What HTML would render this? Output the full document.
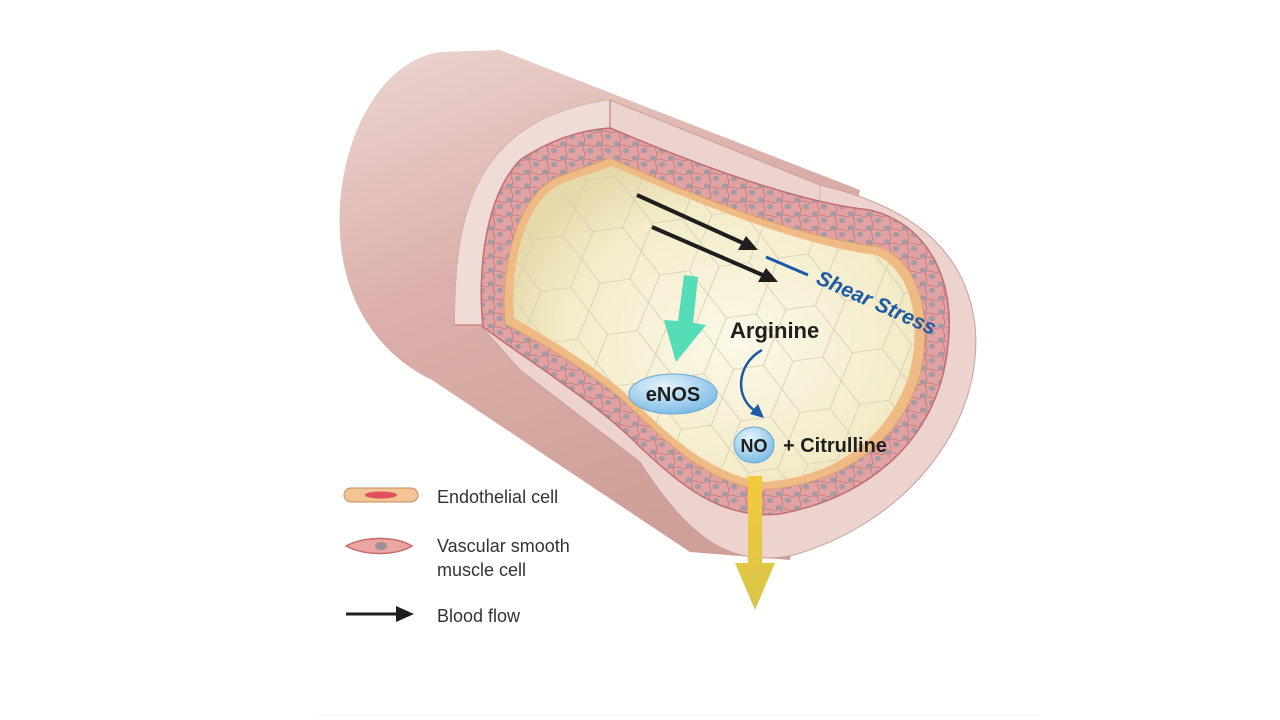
<!DOCTYPE html>
<html><head><meta charset="utf-8"><style>
html,body{margin:0;padding:0;background:#fff;}
svg{display:block;font-family:"Liberation Sans",sans-serif;}
</style></head><body>
<svg width="1280" height="720" viewBox="0 0 1280 720" xmlns="http://www.w3.org/2000/svg">
<defs>
<linearGradient id="body" x1="0" y1="0" x2="0.4" y2="1">
<stop offset="0" stop-color="#ecd6d0"/><stop offset="0.45" stop-color="#dcb1ab"/><stop offset="1" stop-color="#cf9f99"/></linearGradient>
<radialGradient id="lumen" cx="0.55" cy="0.55" r="0.6">
<stop offset="0" stop-color="#fcf8e8"/><stop offset="0.7" stop-color="#f4ecca"/><stop offset="1" stop-color="#e6d9aa"/></radialGradient>
<radialGradient id="bub" cx="0.4" cy="0.3" r="0.7">
<stop offset="0" stop-color="#e6f4fc"/><stop offset="1" stop-color="#7fbde6"/></radialGradient>
<linearGradient id="yel" x1="0" y1="0" x2="0" y2="1"><stop offset="0" stop-color="#f3c93a"/><stop offset="1" stop-color="#d9c54a"/></linearGradient>
<pattern id="hex" width="60" height="52" patternUnits="userSpaceOnUse" patternTransform="rotate(-8)">
<path d="M0 26 L15 0 L45 0 L60 26 L45 52 L15 52 Z" fill="none" stroke="#d6cab0" stroke-width="0.8"/>
</pattern>
<pattern id="cells" width="18" height="14" patternUnits="userSpaceOnUse">
<rect width="18" height="14" fill="#e2a2a2"/>
<path d="M0 7 Q9 3 18 7 M9 0 Q6 7 9 14" stroke="#c27478" stroke-width="0.8" fill="none"/>
<ellipse cx="5" cy="4" rx="3.2" ry="2.6" fill="#a49aa4"/>
<ellipse cx="14" cy="10.5" rx="3.2" ry="2.6" fill="#a49aa4"/>
</pattern>
</defs>
<!-- cylinder body -->
<path d="M440 52 C 375 62 335 150 340 235 C 345 315 390 360 432 380 L 690 552 L 790 560 L 860 190 L 500 50 Z" fill="url(#body)"/>
<!-- front face -->
<path d="M610 100 L 820 185 C 905 205 965 245 975 325 C 985 425 905 525 790 556 C 730 566 690 540 640 462 L 520 370 L 480 325 L 455 325 C 455 220 470 120 610 100 Z" fill="#ecd3cd" stroke="#c9a09a" stroke-width="1"/>
<path d="M610 100 C 470 120 455 220 455 325 L 485 325 C 482 250 500 180 610 135 Z" fill="#efdcd7"/>
<path d="M610 100 L610 160 M455 325 L520 325" stroke="#c46a6a" stroke-width="1"/>
<path d="M820 185 L820 215" stroke="#d8b4ae"/>
<!-- muscle layer -->
<path d="M610 128 C 700 166 800 203 870 210 C 935 226 955 290 948 345 C 940 430 880 495 780 514 C 720 520 680 484 640 447 C 600 405 530 362 483 327 C 478 280 482 200 520 160 C 550 140 580 130 610 128 Z" fill="url(#cells)" stroke="#c06f74" stroke-width="1.5"/>
<!-- endothelial -->
<path d="M610 158 C 700 198 800 238 880 247 C 925 265 933 330 918 382 C 893 452 833 486 760 490 C 700 480 660 435 620 398 C 580 365 540 342 505 324 C 500 270 515 200 555 178 Z" fill="#efba84" stroke="#d9a070" stroke-width="1"/>
<!-- lumen -->
<path d="M612 166 C 700 205 800 245 876 255 C 915 272 922 330 908 378 C 884 445 828 478 762 482 C 704 472 664 430 624 392 C 586 360 548 338 514 318 C 510 270 522 205 560 184 Z" fill="url(#lumen)"/>
<path d="M612 166 C 700 205 800 245 876 255 C 915 272 922 330 908 378 C 884 445 828 478 762 482 C 704 472 664 430 624 392 C 586 360 548 338 514 318 C 510 270 522 205 560 184 Z" fill="url(#hex)"/>
<!-- flow arrows -->
<g stroke="#1e1e1e" stroke-width="4" fill="#1e1e1e">
<line x1="637" y1="195" x2="745" y2="244"/><path d="M758 250 L738 250 L746 236 Z" stroke="none"/>
<line x1="652" y1="227" x2="765" y2="276"/><path d="M778 282 L758 282 L766 268 Z" stroke="none"/>
</g>
<!-- shear stress -->
<line x1="766" y1="257" x2="808" y2="275" stroke="#1a5aa6" stroke-width="3"/>
<text x="815" y="283" fill="#1a5aa6" font-size="21" font-weight="bold" font-style="italic" transform="rotate(24 815 283)">Shear Stress</text>
<!-- green arrow -->
<path d="M684 275 L698 277 L693 323 L706 325 L676 362 L664 320 L678 321 Z" fill="#55ddb8"/>
<!-- eNOS -->
<ellipse cx="673" cy="394" rx="44" ry="20" fill="url(#bub)" stroke="#6aa9d4"/>
<text x="673" y="401" font-size="20" font-weight="bold" fill="#1e1e1e" text-anchor="middle">eNOS</text>
<text x="730" y="338" font-size="22" font-weight="bold" fill="#1e1e1e">Arginine</text>
<path d="M762 350 C 735 365 735 400 757 412" fill="none" stroke="#1a5aa6" stroke-width="2.5"/>
<path d="M764 418 L750 414 L758 404 Z" fill="#1a5aa6"/>
<ellipse cx="754" cy="445" rx="20" ry="18" fill="url(#bub)" stroke="#6aa9d4"/>
<text x="754" y="452" font-size="18" font-weight="bold" fill="#1e1e1e" text-anchor="middle">NO</text>
<text x="783" y="452" font-size="20" font-weight="bold" fill="#1e1e1e">+ Citrulline</text>
<!-- yellow arrow -->
<path d="M748 476 L762 476 L762 563 L775 563 L755 610 L735 563 L748 563 Z" fill="url(#yel)"/>
<!-- legend -->
<rect x="344" y="488" width="74" height="14" rx="7" fill="#f3c496" stroke="#c48a5a"/>
<ellipse cx="381" cy="495" rx="16" ry="3.5" fill="#e0505a"/>
<text x="437" y="503" font-size="18" fill="#333">Endothelial cell</text>
<path d="M346 546 C 365 536 395 536 412 546 C 395 556 365 556 346 546 Z" fill="#eba6a4" stroke="#c56a6a" stroke-width="1.5"/>
<ellipse cx="381" cy="546" rx="6" ry="4" fill="#9d8f96"/>
<text x="437" y="552" font-size="18" fill="#333">Vascular smooth</text>
<text x="437" y="576" font-size="18" fill="#333">muscle cell</text>
<line x1="346" y1="614" x2="398" y2="614" stroke="#1e1e1e" stroke-width="3"/>
<path d="M414 614 L396 606 L396 622 Z" fill="#1e1e1e"/>
<text x="437" y="622" font-size="18" fill="#333">Blood flow</text>
<line x1="315" y1="715" x2="1040" y2="715" stroke="#f0f0f0" stroke-width="1"/>
</svg>
</body></html>
